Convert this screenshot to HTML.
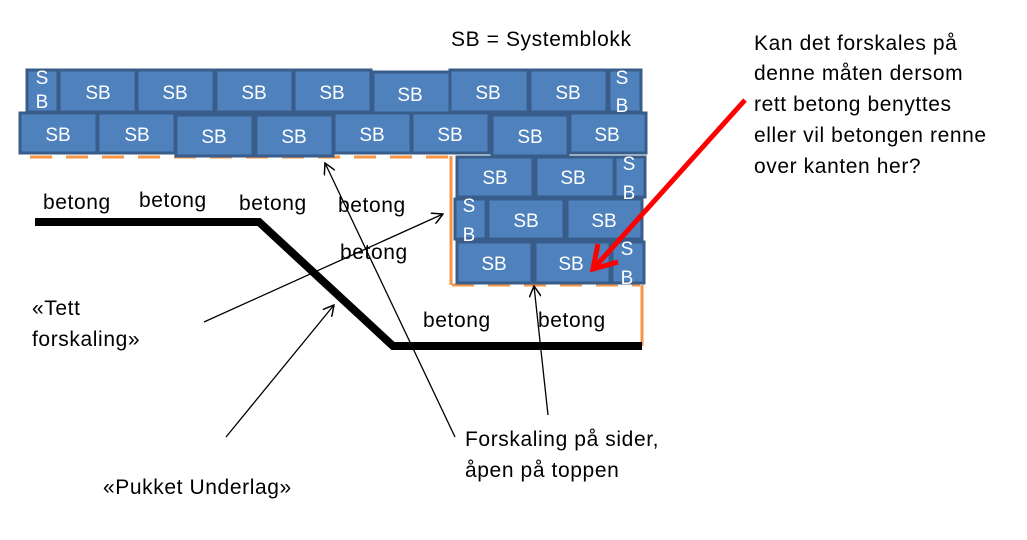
<!DOCTYPE html>
<html><head><meta charset="utf-8"><style>
html,body{margin:0;padding:0;background:#fff;}
svg{display:block}
text{font-family:"Liberation Sans",sans-serif;font-size:21px;letter-spacing:0.6px;fill:#000}
.w{fill:#fff;font-size:19px;letter-spacing:0}
rect.b{fill:#4F81BD;stroke:#385D8A;stroke-width:3}
</style></head><body>
<svg width="1027" height="540" viewBox="0 0 1027 540" xmlns="http://www.w3.org/2000/svg">
<defs>
<marker id="a" viewBox="0 0 12 12" refX="11" refY="6" markerWidth="12" markerHeight="12" markerUnits="userSpaceOnUse" orient="auto">
<path d="M0,0 L11,6 L0,12" fill="none" stroke="#000" stroke-width="1.5"/></marker>
</defs>
<!-- orange formwork -->
<line x1="30" y1="157" x2="450" y2="157" stroke="#F79646" stroke-width="3" stroke-dasharray="22,14"/>
<line x1="451" y1="156" x2="451" y2="285" stroke="#F79646" stroke-width="3"/>
<line x1="452" y1="285" x2="640" y2="285" stroke="#F79646" stroke-width="3" stroke-dasharray="22,14"/>
<line x1="642" y1="285" x2="642" y2="346" stroke="#F79646" stroke-width="3"/>
<!-- row 1 -->
<rect class="b" x="27" y="70" width="31" height="42"/>
<rect class="b" x="59" y="70" width="77" height="42"/>
<rect class="b" x="137" y="70" width="77" height="42"/>
<rect class="b" x="216" y="70" width="77" height="42"/>
<rect class="b" x="294" y="70" width="77" height="42"/>
<rect class="b" x="373" y="72" width="77" height="41"/>
<rect class="b" x="450" y="70" width="78" height="42"/>
<rect class="b" x="530" y="70" width="77" height="42"/>
<rect class="b" x="609" y="70" width="32" height="42"/>
<!-- row 2 -->
<rect class="b" x="20" y="113" width="77" height="40"/>
<rect class="b" x="98" y="113" width="77" height="40"/>
<rect class="b" x="176" y="115" width="77" height="41"/>
<rect class="b" x="256" y="115" width="77" height="41"/>
<rect class="b" x="334" y="113" width="77" height="40"/>
<rect class="b" x="412" y="113" width="77" height="40"/>
<rect class="b" x="492" y="115" width="76" height="41"/>
<rect class="b" x="570" y="113" width="76" height="40"/>
<!-- row 3 -->
<rect class="b" x="457" y="157" width="76" height="40"/>
<rect class="b" x="536" y="157" width="78" height="40"/>
<rect class="b" x="615" y="157" width="30" height="40"/>
<!-- row 4 -->
<rect class="b" x="455" y="199" width="31" height="40"/>
<rect class="b" x="488" y="199" width="76" height="40"/>
<rect class="b" x="567" y="199" width="75" height="40"/>
<!-- row 5 -->
<rect class="b" x="457" y="242" width="75" height="41"/>
<rect class="b" x="535" y="242" width="75" height="41"/>
<rect class="b" x="612" y="242" width="32" height="41"/>
<!-- SB texts -->
<g text-anchor="middle">
<text class="w" x="42" y="84">S</text><text class="w" x="42" y="108">B</text>
<text class="w" x="98" y="99">SB</text><text class="w" x="175" y="99">SB</text>
<text class="w" x="254" y="99">SB</text><text class="w" x="332" y="99">SB</text>
<text class="w" x="410" y="101">SB</text><text class="w" x="488" y="99">SB</text>
<text class="w" x="568" y="99">SB</text>
<text class="w" x="622" y="84">S</text><text class="w" x="622" y="112">B</text>
<text class="w" x="58" y="141">SB</text><text class="w" x="137" y="141">SB</text>
<text class="w" x="214" y="143">SB</text><text class="w" x="294" y="143">SB</text>
<text class="w" x="372" y="141">SB</text><text class="w" x="450" y="141">SB</text>
<text class="w" x="530" y="143">SB</text><text class="w" x="607" y="141">SB</text>
<text class="w" x="495" y="184">SB</text><text class="w" x="573" y="184">SB</text>
<text class="w" x="629" y="170">S</text><text class="w" x="629" y="199">B</text>
<text class="w" x="469" y="212">S</text><text class="w" x="469" y="241">B</text>
<text class="w" x="526" y="227">SB</text><text class="w" x="604" y="227">SB</text>
<text class="w" x="494" y="270">SB</text><text class="w" x="571" y="270">SB</text>
<text class="w" x="627" y="255">S</text><text class="w" x="627" y="284">B</text>
</g>
<!-- black ground line -->
<polyline points="35,222 259,222 393,346 642,346" fill="none" stroke="#000" stroke-width="8"/>
<!-- arrows -->
<line x1="204" y1="322" x2="443" y2="214" stroke="#000" stroke-width="1.3" marker-end="url(#a)"/>
<line x1="226" y1="437" x2="334" y2="305" stroke="#000" stroke-width="1.3" marker-end="url(#a)"/>
<line x1="455" y1="437" x2="325" y2="163" stroke="#000" stroke-width="1.3" marker-end="url(#a)"/>
<line x1="548" y1="415" x2="534" y2="286" stroke="#000" stroke-width="1.3" marker-end="url(#a)"/>
<line x1="745" y1="100" x2="594" y2="268" stroke="#f00" stroke-width="5"/>
<polyline points="598,244 593,269 618,262" fill="none" stroke="#f00" stroke-width="5"/>
<!-- labels -->
<text x="451" y="46">SB = Systemblokk</text>
<text x="43" y="209">betong</text><text x="139" y="207">betong</text>
<text x="239" y="210">betong</text><text x="338" y="212">betong</text>
<text x="340" y="259">betong</text>
<text x="423" y="327">betong</text><text x="538" y="327">betong</text>
<text x="32" y="315">«Tett</text><text x="32" y="346">forskaling»</text>
<text x="103" y="494">«Pukket Underlag»</text>
<text x="465" y="446">Forskaling på sider,</text>
<text x="465" y="477">åpen på toppen</text>
<text x="754" y="50">Kan det forskales på</text>
<text x="754" y="80">denne måten dersom</text>
<text x="754" y="111">rett betong benyttes</text>
<text x="754" y="142">eller vil betongen renne</text>
<text x="754" y="173">over kanten her?</text>
</svg>
</body></html>
